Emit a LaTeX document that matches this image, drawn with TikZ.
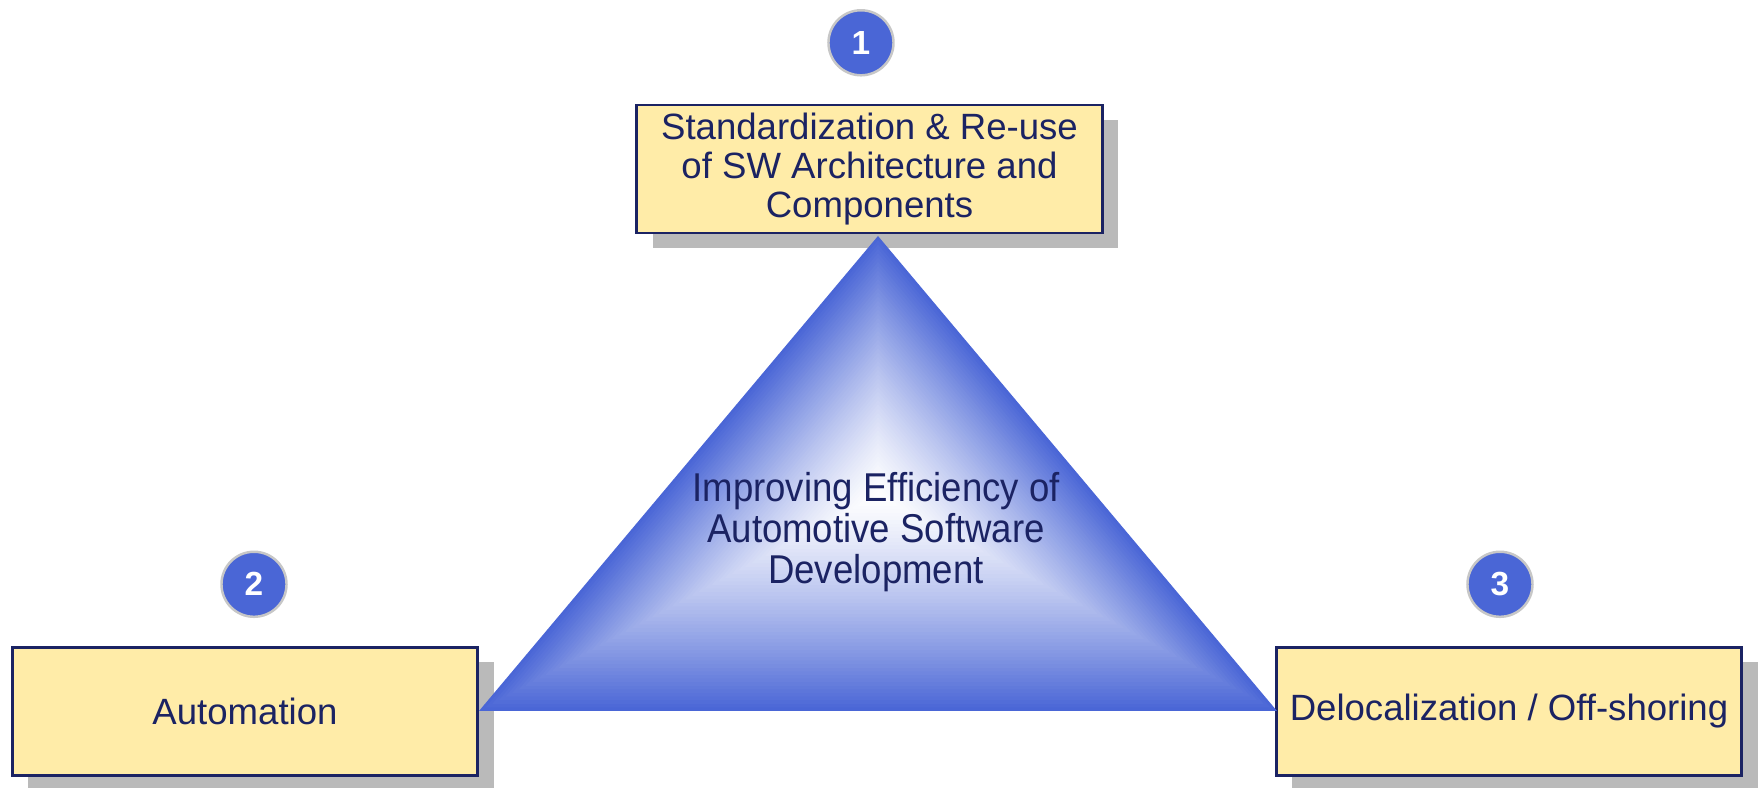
\documentclass[tikz,border=0pt]{standalone}
\usepackage{fontspec}
\setmainfont{Liberation Sans}
\usepackage{graphicx}
\usetikzlibrary{positioning,shadows}
\definecolor{navy}{HTML}{1B2363}
\definecolor{boxyellow}{HTML}{FFECA8}
\definecolor{triblue}{HTML}{4A66D6}

\begin{document}
\begin{tikzpicture}[x=0.01cm, y=0.01cm,
topic/.style={rectangle, draw=navy, line width=0.8pt, fill=boxyellow, text=navy, minimum width=4.65cm, minimum height=1.28cm, inner ysep=2.2pt, align=center, font=\fontsize{10.4}{11.1}\selectfont, drop shadow={shadow xshift=0.16cm, shadow yshift=-0.15cm, fill=black!27, opacity=1}},
badge/.style={circle, draw=black!22, line width=0.7pt, fill=triblue, text=white, minimum size=0.65cm, inner sep=0pt, font=\fontsize{9.5}{10}\selectfont\bfseries},
]
\useasboundingbox (0,0) rectangle (1759,788);

%Topic boxes
\node[topic] (s1) at (869.5,619) {Standardization \& Re-use\\of SW Architecture and\\Components};
\node[topic] (s2) at (245,76.5) {Automation};
\node[topic] (s3) at (1509,76.5) {Delocalization / Off-shoring};

%Number badges
\node[badge] (b1) [above=0.27cm of s1, xshift=-0.085cm] {1};
\node[badge] (b2) [above=0.28cm of s2, xshift=0.09cm] {2};
\node[badge] (b3) [above=0.28cm of s3, xshift=-0.09cm] {3};

%Triangle, shaded from the edges to the centre
\foreach \k in {0,...,59}{
  \pgfmathsetmacro\f{1-\k/60}
  \pgfmathsetmacro\p{100*\f^1.3}
  \fill[triblue!\p!white, shift={(878,293)}, scale=\f] (0,259) -- (-399,-216) -- (399,-216) -- cycle;
}

%Goal text
\node (goal) at (876,254) [text=navy, inner sep=0pt] {\fontsize{10.4}{10.1}\selectfont\scalebox{1}[1.1]{\begin{tabular}{@{}c@{}}Improving Efficiency of\\Automotive Software\\Development\end{tabular}}};
\end{tikzpicture}
\end{document}
